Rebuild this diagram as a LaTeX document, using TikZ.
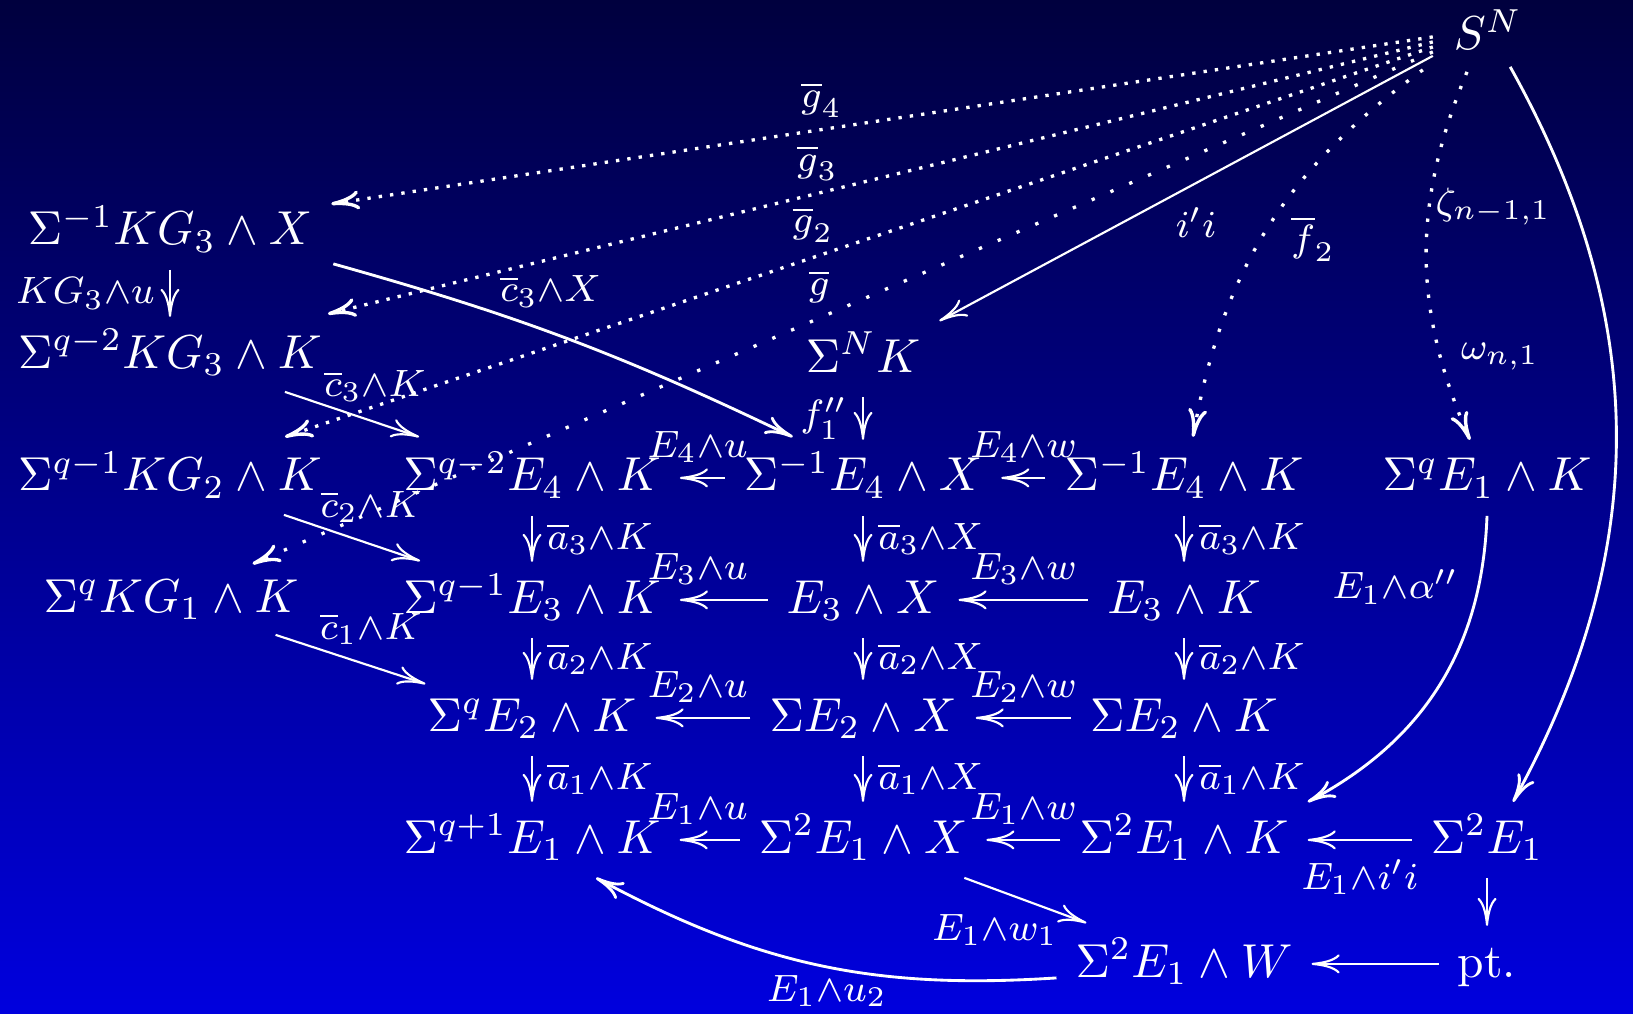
\documentclass[tikz,border=0pt]{standalone}
\usetikzlibrary{arrows.meta}
\definecolor{bgtop}{RGB}{0,0,62}
\definecolor{bgbot}{RGB}{0,0,222}
\tikzset{
  obj/.style={anchor=base,inner xsep=3.8pt,inner ysep=2.7pt,text height=7.8pt,text depth=2.3pt},
  lbl/.style={font=\fontsize{8}{9.6}\selectfont,inner sep=1pt},
  dotline/.style={line width=.7pt,dash pattern=on .7pt off #1},
  dotline/.default=1.7pt,
  thick curve/.style={line width=.6pt}
}
\begin{document}
\begin{tikzpicture}[x=.21pt,y=-.21pt,>={Computer Modern Rightarrow[length=5.9pt,width=4pt]},line width=.45pt,white]
  \useasboundingbox (0,0) rectangle (1633,1014);
  \shade[top color=bgtop,bottom color=bgbot] (0,0) rectangle (1633,1014);
  % objects
  \node[obj] (sn) at (1488,50) {$S^N$};
  \node[obj] (kg3x) at (170,245) {$\Sigma^{-1}KG_3\wedge X$};
  \node[obj] (kg3k) at (170,368) {$\Sigma^{q-2}KG_3\wedge K$};
  \node[obj] (snk) at (863,372) {$\Sigma^N K$};
  \node[obj] (kg2k) at (170,491) {$\Sigma^{q-1}KG_2\wedge K$};
  \node[obj] (e4k) at (532,491) {$\Sigma^{q-2}E_4\wedge K$};
  \node[obj] (e4x) at (863,491) {$\Sigma^{-1}E_4\wedge X$};
  \node[obj] (e4kk) at (1184,491) {$\Sigma^{-1}E_4\wedge K$};
  \node[obj] (e1kq) at (1487,491) {$\Sigma^qE_1\wedge K$};
  \node[obj] (kg1k) at (171,612) {$\Sigma^qKG_1\wedge K$};
  \node[obj] (e3k) at (532,613) {$\Sigma^{q-1}E_3\wedge K$};
  \node[obj] (e3x) at (863,613) {$E_3\wedge X$};
  \node[obj] (e3kk) at (1184,613) {$E_3\wedge K$};
  \node[obj] (e2k) at (532,731) {$\Sigma^qE_2\wedge K$};
  \node[obj] (e2x) at (863,731) {$\Sigma E_2\wedge X$};
  \node[obj] (e2kk) at (1184,731) {$\Sigma E_2\wedge K$};
  \node[obj] (e1k) at (532,853) {$\Sigma^{q+1}E_1\wedge K$};
  \node[obj] (e1x) at (863,853) {$\Sigma^2E_1\wedge X$};
  \node[obj] (e1kk) at (1184,853) {$\Sigma^2E_1\wedge K$};
  \node[obj] (se1) at (1487,853) {$\Sigma^2E_1$};
  \node[obj] (e1w) at (1184,977) {$\Sigma^2E_1\wedge W$};
  \node[obj] (pt) at (1487,977) {pt.};
  % maps out of S^N
  \draw[dotline,->] ([shift={(-2,0)}]sn.west) -- node[lbl,pos=.555,above=1.2pt]{$\overline{g}_4$} ([shift={(0,10)}]kg3x.north east);
  \draw[dotline,->] ([shift={(-2,5)}]sn.west) -- node[lbl,pos=.557,above=1.3pt]{$\overline{g}_3$} ([shift={(-13,-3)}]kg3k.north east);
  \draw[dotline,->] ([shift={(-2,10)}]sn.west) -- node[lbl,pos=.54,above=1.8pt]{$\overline{g}_2$} ([shift={(-56,-3)}]kg2k.north east);
  \draw[dotline=3.6pt,->] ([shift={(-2,15)}]sn.west) -- node[lbl,pos=.52,above=1.8pt]{$\overline{g}$} ([shift={(-65,3)}]kg1k.north east);
  \draw[->] ([shift={(-2,19)}]sn.west) -- node[lbl,pos=.48,below=4pt]{$i'i$} (snk.north east);
  \draw[dotline=3pt,->] ([shift={(-12,-5)}]sn.south west) to[bend right=22] node[lbl,pos=.53,right=5pt]{$\overline{f}_2$} ([shift={(9,-3)}]e4kk.north);
  \draw[dotline=2.5pt,->] ([shift={(-21,-3)}]sn.south) to[bend right=23] node[lbl,pos=.36,right]{$\zeta_{n-1,1}$} node[lbl,pos=.78,right=3pt]{$\omega_{n,1}$} ([shift={(-17,0)}]e1kq.north);
  \draw[thick curve,->] ([shift={(-31,-8)}]sn.south east) to[bend left=29] ([shift={(26,0)}]se1.north);
  % left column
  \draw[->] (kg3x) -- node[lbl,left=2pt]{$KG_3{\wedge}u$} (kg3k);
  \draw[thick curve,->] ([shift={(2,-6)}]kg3x.south east) to[bend left=5] node[lbl,pos=.46,above=4pt]{$\overline{c}_3{\wedge}X$} ([shift={(68,-3)}]e4x.north west);
  \draw[->] ([shift={(-56,-1)}]kg3k.south east) -- node[lbl,pos=.67,above=3pt]{$\overline{c}_3{\wedge}K$} ([shift={(35,-3)}]e4k.north west);
  \draw[->] ([shift={(-57,-1)}]kg2k.south east) -- node[lbl,pos=.64,above=3.3pt]{$\overline{c}_2{\wedge}K$} ([shift={(36,-1)}]e3k.north west);
  \draw[->] ([shift={(-42,-2)}]kg1k.south east) -- node[lbl,pos=.635,above=3.3pt]{$\overline{c}_1{\wedge}K$} ([shift={(17,4)}]e2k.north west);
  \draw[->] (snk) -- node[lbl,left=2pt]{$f_1''$} (e4x);
  % rows, labels sit halfway between the objects
  \draw[->] (e4x) -- (e4k);
  \path (e4x.center) -- node[lbl,above=2pt]{$E_4{\wedge}u$} (e4k.center);
  \draw[->] (e4kk) -- (e4x);
  \path (e4kk.center) -- node[lbl,above=2pt]{$E_4{\wedge}w$} (e4x.center);
  \draw[->] (e3x) -- (e3k);
  \path (e3x.center) -- node[lbl,above=2pt]{$E_3{\wedge}u$} (e3k.center);
  \draw[->] (e3kk) -- (e3x);
  \path (e3kk.center) -- node[lbl,above=2pt]{$E_3{\wedge}w$} (e3x.center);
  \draw[->] (e2x) -- (e2k);
  \path (e2x.center) -- node[lbl,above=2pt]{$E_2{\wedge}u$} (e2k.center);
  \draw[->] (e2kk) -- (e2x);
  \path (e2kk.center) -- node[lbl,above=2pt]{$E_2{\wedge}w$} (e2x.center);
  \draw[->] (e1x) -- (e1k);
  \path (e1x.center) -- node[lbl,above=2pt]{$E_1{\wedge}u$} (e1k.center);
  \draw[->] (e1kk) -- (e1x);
  \path (e1kk.center) -- node[lbl,above=2pt]{$E_1{\wedge}w$} (e1x.center);
  \draw[->] (se1) -- node[lbl,below=3pt]{$E_1{\wedge}i'i$} (e1kk);
  % columns
  \draw[->] (e4k) -- node[lbl,right=2pt]{$\overline{a}_3{\wedge}K$} (e3k);
  \draw[->] (e3k) -- node[lbl,right=2pt]{$\overline{a}_2{\wedge}K$} (e2k);
  \draw[->] (e2k) -- node[lbl,right=2pt]{$\overline{a}_1{\wedge}K$} (e1k);
  \draw[->] (e4x) -- node[lbl,right=2pt]{$\overline{a}_3{\wedge}X$} (e3x);
  \draw[->] (e3x) -- node[lbl,right=2pt]{$\overline{a}_2{\wedge}X$} (e2x);
  \draw[->] (e2x) -- node[lbl,right=2pt]{$\overline{a}_1{\wedge}X$} (e1x);
  \draw[->] (e4kk) -- node[lbl,right=2pt]{$\overline{a}_3{\wedge}K$} (e3kk);
  \draw[->] (e3kk) -- node[lbl,right=2pt]{$\overline{a}_2{\wedge}K$} (e2kk);
  \draw[->] (e2kk) -- node[lbl,right=2pt]{$\overline{a}_1{\wedge}K$} (e1kk);
  \draw[->] (se1) -- (pt);
  \draw[->] (pt) -- (e1w);
  % bottom part
  \draw[thick curve,->] (e1kq.south) to[bend left=30] node[lbl,pos=.19,left=3pt]{$E_1{\wedge}\alpha''$} (e1kk.north east);
  \draw[->] ([shift={(-22,0)}]e1x.south east) -- node[lbl,pos=.25,below=4pt]{$E_1{\wedge}w_1$} ([shift={(30,-3)}]e1w.north west);
  \draw[thick curve,->] ([shift={(0,14)}]e1w.west) to[bend left=16] node[lbl,pos=.48,below=.5pt]{$E_1{\wedge}u_2$} ([shift={(64,0)}]e1k.south);
\end{tikzpicture}
\end{document}
